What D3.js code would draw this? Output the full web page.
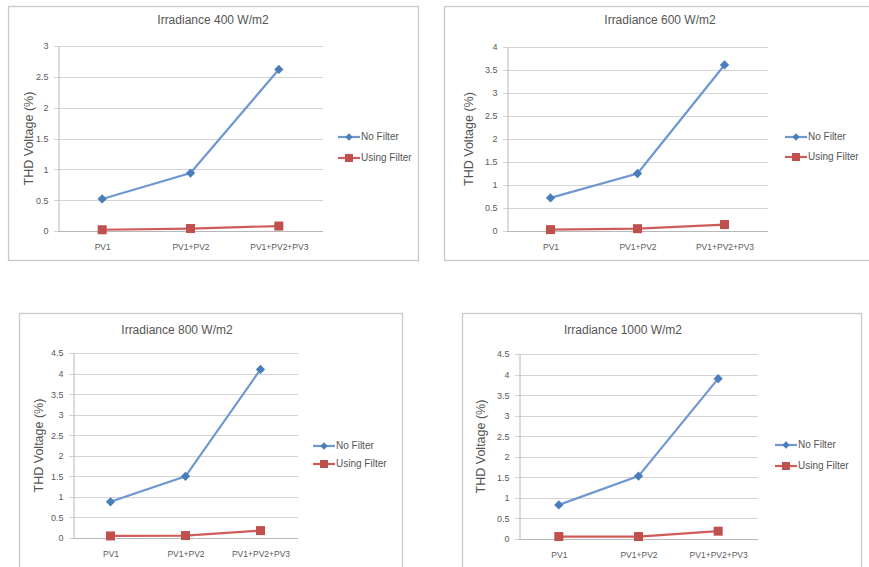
<!DOCTYPE html>
<html>
<head>
<meta charset="utf-8">
<title>THD Voltage</title>
<script src="https://cdn.jsdelivr.net/npm/d3@7"></script>
<style>
  body { margin: 0; background: #fff; }
  svg { display: block; font-family: "Liberation Sans", Arial, sans-serif; }
</style>
</head>
<body>
<script>
// data
var categories = ["PV1", "PV1+PV2", "PV1+PV2+PV3"];
var titles = ["Irradiance 400 W/m2", "Irradiance 600 W/m2", "Irradiance 800 W/m2", "Irradiance 1000 W/m2"];
var seriesNames = ["No Filter", "Using Filter"];
var noFilter = [
  [0.52, 0.94, 2.62],
  [0.72, 1.25, 3.61],
  [0.88, 1.50, 4.10],
  [0.83, 1.53, 3.90]
];
var usingFilter = [
  [0.02, 0.04, 0.08],
  [0.03, 0.05, 0.14],
  [0.05, 0.06, 0.18],
  [0.06, 0.06, 0.19]
];
var yMax = [3, 4, 4.5, 4.5];
var yLabel = "THD Voltage (%)";

// panel layout (box, plot area, title, legend) in page pixels
var panels = [
  { box: [8, 6, 418, 260], plot: [58, 46, 323, 231], title: [213, 24], yLab: 30, leg: [338, 137, 158] },
  { box: [444, 6, 874, 260], plot: [507, 47, 768, 231], title: [660, 24], yLab: 470, leg: [785, 137, 157] },
  { box: [19, 313, 402, 580], plot: [73, 353, 298, 538], title: [177, 334], yLab: 40, leg: [313, 446, 464] },
  { box: [462, 313, 861, 580], plot: [519, 354, 758, 539], title: [623, 334], yLab: 482, leg: [775, 445, 466] }
];

var blue = "#6f98d2", blueMark = "#4a7ebb";
var red = "#d05c5a", redMark = "#c0504d";

var svg = d3.select("body").append("svg")
  .attr("width", 869)
  .attr("height", 567);

panels.forEach(function(p, i) {
  var g = svg.append("g");
  var x0 = p.plot[0], y0 = p.plot[1], x1 = p.plot[2], y1 = p.plot[3];

  g.append("rect")
    .attr("x", p.box[0] + 0.5).attr("y", p.box[1] + 0.5)
    .attr("width", p.box[2] - p.box[0]).attr("height", p.box[3] - p.box[1])
    .attr("fill", "none").attr("stroke", "#c9c9c9").attr("stroke-width", 1.3);

  var x = d3.scalePoint().domain(categories).range([x0, x1]).padding(0.5);
  var y = d3.scaleLinear().domain([0, yMax[i]]).range([y1, y0]);
  var ticks = d3.range(0, yMax[i] + 0.01, 0.5);

  // grid
  g.selectAll(".grid").data(ticks).enter().append("line")
    .attr("x1", x0 - 4).attr("x2", x1)
    .attr("y1", function(d) { return Math.round(y(d)) + 0.5; })
    .attr("y2", function(d) { return Math.round(y(d)) + 0.5; })
    .attr("stroke", "#d4d4d4").attr("stroke-width", 1.2);

  // axes
  var ya = g.append("g").attr("transform", "translate(" + (x0 + 0.5) + ",0)")
    .call(d3.axisLeft(y).tickValues(ticks).tickSize(0).tickPadding(10)
      .tickFormat(function(d) { return String(d); }));
  ya.select(".domain").attr("stroke", "#b8b8b8");
  ya.selectAll("text").attr("fill", "#5a5a5a").style("font-size", "9px");

  var xa = g.append("g").attr("transform", "translate(0," + (y1 + 0.5) + ")")
    .call(d3.axisBottom(x).tickSize(0).tickPadding(12));
  xa.select(".domain").attr("stroke", "#b8b8b8").attr("d", "M" + x0 + ",0H" + x1);
  xa.selectAll("text").attr("fill", "#5a5a5a").style("font-size", "8.5px");

  // title and y label
  g.append("text")
    .attr("x", p.title[0]).attr("y", p.title[1])
    .attr("text-anchor", "middle").attr("fill", "#555")
    .style("font-size", "12px").text(titles[i]);
  g.append("text")
    .attr("transform", "translate(" + p.yLab + "," + ((y0 + y1) / 2) + ") rotate(-90)")
    .attr("text-anchor", "middle").attr("dominant-baseline", "middle")
    .attr("fill", "#555").style("font-size", "12.5px").text(yLabel);

  var line = d3.line()
    .x(function(d, k) { return x(categories[k]); })
    .y(function(d) { return y(d); });

  // using filter
  g.append("path").datum(usingFilter[i])
    .attr("d", line).attr("fill", "none")
    .attr("stroke", red).attr("stroke-width", 2.2);
  g.selectAll(".sq").data(usingFilter[i]).enter().append("rect")
    .attr("x", function(d, k) { return x(categories[k]) - 4.5; })
    .attr("y", function(d) { return y(d) - 4.5; })
    .attr("width", 9).attr("height", 9).attr("fill", redMark);

  // no filter
  g.append("path").datum(noFilter[i])
    .attr("d", line).attr("fill", "none")
    .attr("stroke", blue).attr("stroke-width", 2.2);
  g.selectAll(".dm").data(noFilter[i]).enter().append("path")
    .attr("d", d3.symbol(d3.symbolDiamond2, 55))
    .attr("transform", function(d, k) { return "translate(" + x(categories[k]) + "," + y(d) + ")"; })
    .attr("fill", blueMark);

  // legend
  var lx = p.leg[0];
  var legRows = [
    { name: seriesNames[0], y: p.leg[1], c: blue, m: blueMark, sq: false },
    { name: seriesNames[1], y: p.leg[2], c: red, m: redMark, sq: true }
  ];
  legRows.forEach(function(r) {
    g.append("line").attr("x1", lx).attr("x2", lx + 22)
      .attr("y1", r.y).attr("y2", r.y)
      .attr("stroke", r.c).attr("stroke-width", 2.2);
    if (r.sq) {
      g.append("rect").attr("x", lx + 7).attr("y", r.y - 4)
        .attr("width", 8).attr("height", 8).attr("fill", r.m);
    } else {
      g.append("path").attr("d", d3.symbol(d3.symbolDiamond2, 34))
        .attr("transform", "translate(" + (lx + 11) + "," + r.y + ")")
        .attr("fill", r.m);
    }
    g.append("text").attr("x", lx + 23).attr("y", r.y)
      .attr("dominant-baseline", "middle").attr("fill", "#555")
      .style("font-size", "10px").text(r.name);
  });
});
</script>
</body>
</html>
